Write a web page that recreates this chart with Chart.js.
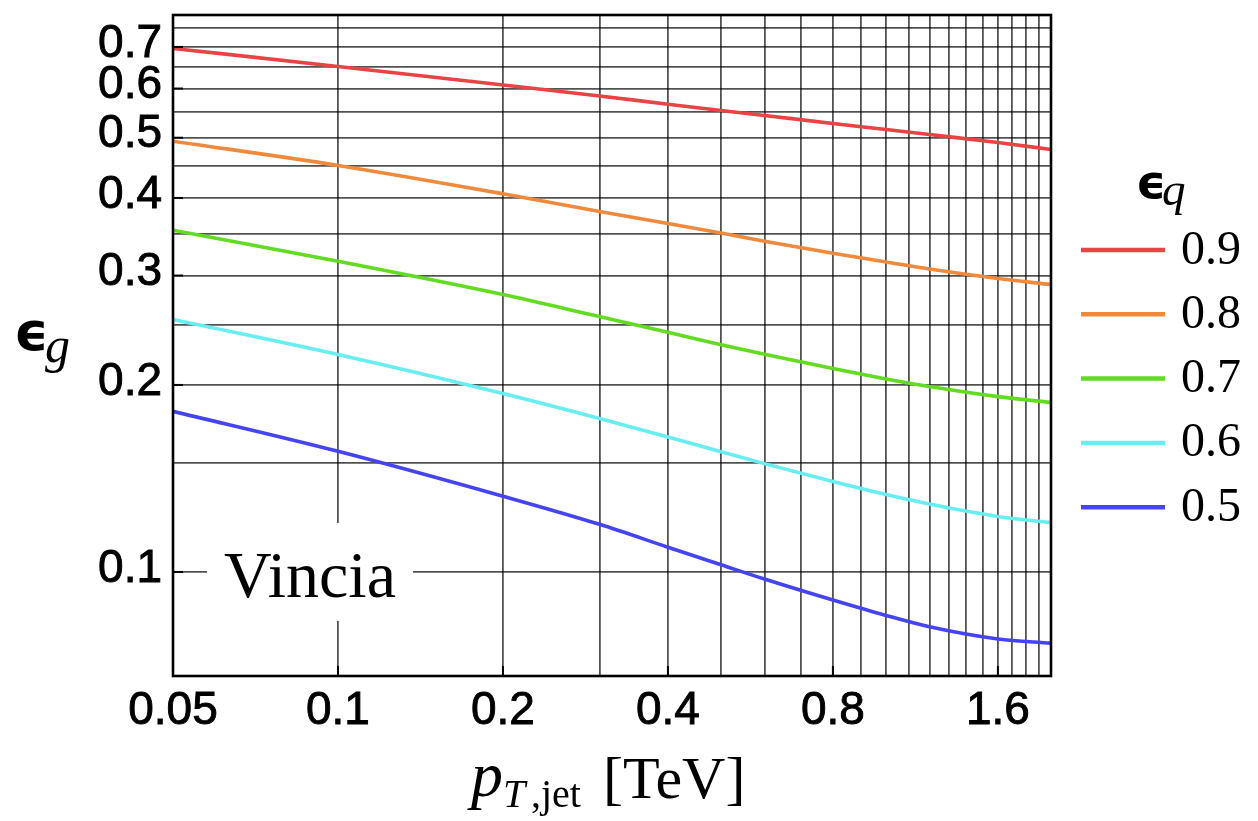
<!DOCTYPE html>
<html>
<head>
<meta charset="utf-8">
<script src="https://cdn.jsdelivr.net/npm/chart.js@4.4.1/dist/chart.umd.min.js"></script>
<style>
html,body{margin:0;padding:0;background:#fff;}
#wrap{width:1258px;height:821px;position:relative;}
</style>
</head>
<body>
<div id="wrap"><canvas id="c"></canvas></div>
<script>
// ---- data ----
const ptJet      = [0.05, 0.1, 0.2, 0.3, 0.4, 0.5, 0.6, 0.8, 1.0, 1.2, 1.6, 2.0];
const effG_q090  = [0.6962, 0.6512, 0.6080, 0.5838, 0.5662, 0.5531, 0.5430, 0.5271, 0.5155, 0.5060, 0.4912, 0.4786];
const effG_q080  = [0.4936, 0.4512, 0.4062, 0.3803, 0.3638, 0.3512, 0.3408, 0.3258, 0.3154, 0.3073, 0.2967, 0.2901];
const effG_q070  = [0.3548, 0.3163, 0.2796, 0.2577, 0.2431, 0.2321, 0.2241, 0.2125, 0.2045, 0.1988, 0.1915, 0.1874];
const effG_q060  = [0.2549, 0.2239, 0.1937, 0.1766, 0.1649, 0.1561, 0.1494, 0.1398, 0.1332, 0.1286, 0.1228, 0.1201];
const effG_q050  = [0.1814, 0.1564, 0.1324, 0.1193, 0.1096, 0.1027, 0.0974, 0.0901, 0.0851, 0.0816, 0.0780, 0.0768];
const seriesLabels = ['0.9', '0.8', '0.7', '0.6', '0.5'];
const seriesValues = [effG_q090, effG_q080, effG_q070, effG_q060, effG_q050];
const seriesColors = ['#e84444', '#ef8a3c', '#62dc20', '#66eef0', '#4444f5'];

const xTickLabels = [0.05, 0.1, 0.2, 0.4, 0.8, 1.6];
const xGridValues = [0.1, 0.2, 0.3, 0.4, 0.5, 0.6, 0.7, 0.8, 0.9, 1.0, 1.1, 1.2, 1.3, 1.4, 1.5, 1.6, 1.7, 1.8, 1.9, 2.0];
const yTickLabels = [0.1, 0.2, 0.3, 0.4, 0.5, 0.6, 0.7];
const yGridValues = [0.1, 0.15, 0.2, 0.25, 0.3, 0.35, 0.4, 0.45, 0.5, 0.55, 0.6, 0.65, 0.7, 0.75];
const xRange = [0.05, 2.0];
const yRange = [0.068, 0.788];
const annotationText = 'Vincia';
const annotationAt = [0.0889, 0.1];

// ---- helpers ----
const near = (a, b) => Math.abs(a - b) < 1e-9;
const inList = (list, v) => list.some(t => near(t, v));
const unionSorted = (a, b) => {
  const out = [];
  a.concat(b).forEach(v => { if (!inList(out, v)) out.push(v); });
  return out.sort((p, q) => p - q);
};
const xAllTicks = unionSorted(xTickLabels, xGridValues);
const yAllTicks = unionSorted(yTickLabels, yGridValues);
const gridColor = 'rgba(0,0,0,0.68)';
const tickFont = { family: '"Liberation Sans", Arial, sans-serif', size: 46 };

const datasets = seriesValues.map((vals, i) => ({
  label: seriesLabels[i],
  data: ptJet.map((x, j) => ({ x: x, y: vals[j] })),
  borderColor: seriesColors[i],
  backgroundColor: seriesColors[i],
  borderWidth: 3.6,
  pointRadius: 0,
  cubicInterpolationMode: 'monotone',
  fill: false
}));

const decorations = {
  id: 'decorations',
  beforeDatasetsDraw(chart) {
    const ctx = chart.ctx, xs = chart.scales.x, ys = chart.scales.y;
    const cx = xs.getPixelForValue(annotationAt[0]);
    const cy = ys.getPixelForValue(annotationAt[1]);
    ctx.save();
    ctx.fillStyle = '#fff';
    ctx.fillRect(cx - 103, cy - 49, 206, 98);
    ctx.fillStyle = '#000';
    ctx.font = '66px "Liberation Serif", "Times New Roman", serif';
    ctx.textAlign = 'center';
    ctx.textBaseline = 'alphabetic';
    ctx.fillText(annotationText, cx, cy + 25);
    ctx.restore();
  },
  afterDatasetsDraw(chart) {
    const ctx = chart.ctx, a = chart.chartArea, xs = chart.scales.x, ys = chart.scales.y;
    ctx.save();
    ctx.strokeStyle = '#000';
    ctx.lineWidth = 2;
    yTickLabels.forEach(v => {
      const y = ys.getPixelForValue(v);
      ctx.beginPath(); ctx.moveTo(a.left, y); ctx.lineTo(a.left + 10, y); ctx.stroke();
    });
    xTickLabels.forEach(v => {
      const x = xs.getPixelForValue(v);
      ctx.beginPath(); ctx.moveTo(x, a.bottom); ctx.lineTo(x, a.bottom - 10); ctx.stroke();
    });
    ctx.lineWidth = 2.6;
    ctx.strokeRect(a.left, a.top, a.right - a.left, a.bottom - a.top);
    ctx.restore();
  },
  afterDraw(chart) {
    const ctx = chart.ctx;
    ctx.save();
    ctx.fillStyle = '#000';
    ctx.textBaseline = 'alphabetic';
    ctx.textAlign = 'left';
    // y-axis title  ϵ_g
    ctx.font = 'bold 54px "DejaVu Sans", sans-serif';
    ctx.fillText('\u03F5', 14, 350);
    ctx.font = 'italic 50px "Liberation Serif", serif';
    ctx.fillText('g', 45, 362);
    // x-axis title  p_{T,jet} [TeV]
    ctx.font = 'italic 64px "Liberation Serif", serif';
    ctx.fillText('p', 471, 796);
    ctx.font = 'italic 40px "Liberation Serif", serif';
    ctx.fillText('T', 503, 807);
    ctx.font = '40px "Liberation Serif", serif';
    ctx.fillText(',jet', 531, 807);
    ctx.font = '60px "Liberation Serif", serif';
    ctx.fillText('[TeV]', 603, 798);
    // legend
    ctx.font = 'bold 47px "DejaVu Sans", sans-serif';
    ctx.fillText('\u03F5', 1136, 198);
    ctx.font = 'italic 47px "Liberation Serif", serif';
    ctx.fillText('q', 1162, 205);
    chart.data.datasets.forEach((ds, i) => {
      const y = 250 + i * 64.3;
      ctx.strokeStyle = ds.borderColor;
      ctx.lineWidth = 4.5;
      ctx.beginPath(); ctx.moveTo(1081, y); ctx.lineTo(1165, y); ctx.stroke();
      ctx.font = '48px "Liberation Serif", serif';
      ctx.fillStyle = '#000';
      ctx.fillText(ds.label, 1181, y + 13.5);
    });
    ctx.restore();
  }
};

new Chart(document.getElementById('c'), {
  type: 'line',
  data: { datasets: datasets },
  options: {
    responsive: true,
    maintainAspectRatio: false,
    animation: false,
    layout: { padding: { top: 15, right: 207, left: 0, bottom: 0 } },
    plugins: { legend: { display: false }, tooltip: { enabled: false } },
    scales: {
      x: {
        type: 'logarithmic',
        min: xRange[0], max: xRange[1],
        bounds: 'data',
        afterBuildTicks: s => { s.ticks = xAllTicks.map(v => ({ value: v })); },
        afterFit: s => { s.height = 145; s.paddingLeft = 0; s.paddingRight = 0; },
        border: { display: false },
        grid: {
          drawTicks: false,
          lineWidth: 1.8,
          color: c => (c.tick && inList(xGridValues, c.tick.value)) ? gridColor : 'rgba(0,0,0,0)'
        },
        ticks: {
          autoSkip: false, maxRotation: 0, minRotation: 0, padding: 8,
          color: '#000', font: tickFont, textStrokeColor: '#000', textStrokeWidth: 0.9,
          callback: v => inList(xTickLabels, v) ? String(v) : ''
        }
      },
      y: {
        type: 'logarithmic',
        min: yRange[0], max: yRange[1],
        bounds: 'data',
        afterBuildTicks: s => { s.ticks = yAllTicks.map(v => ({ value: v })); },
        afterFit: s => { s.width = 173; s.paddingTop = 0; s.paddingBottom = 0; },
        border: { display: false },
        grid: {
          drawTicks: false,
          lineWidth: 1.8,
          color: c => (c.tick && inList(yGridValues, c.tick.value)) ? gridColor : 'rgba(0,0,0,0)'
        },
        ticks: {
          autoSkip: false, padding: 11, labelOffset: -3,
          color: '#000', font: tickFont, textStrokeColor: '#000', textStrokeWidth: 0.9,
          callback: v => inList(yTickLabels, v) ? String(v) : ''
        }
      }
    }
  },
  plugins: [decorations]
});
</script>
</body>
</html>
